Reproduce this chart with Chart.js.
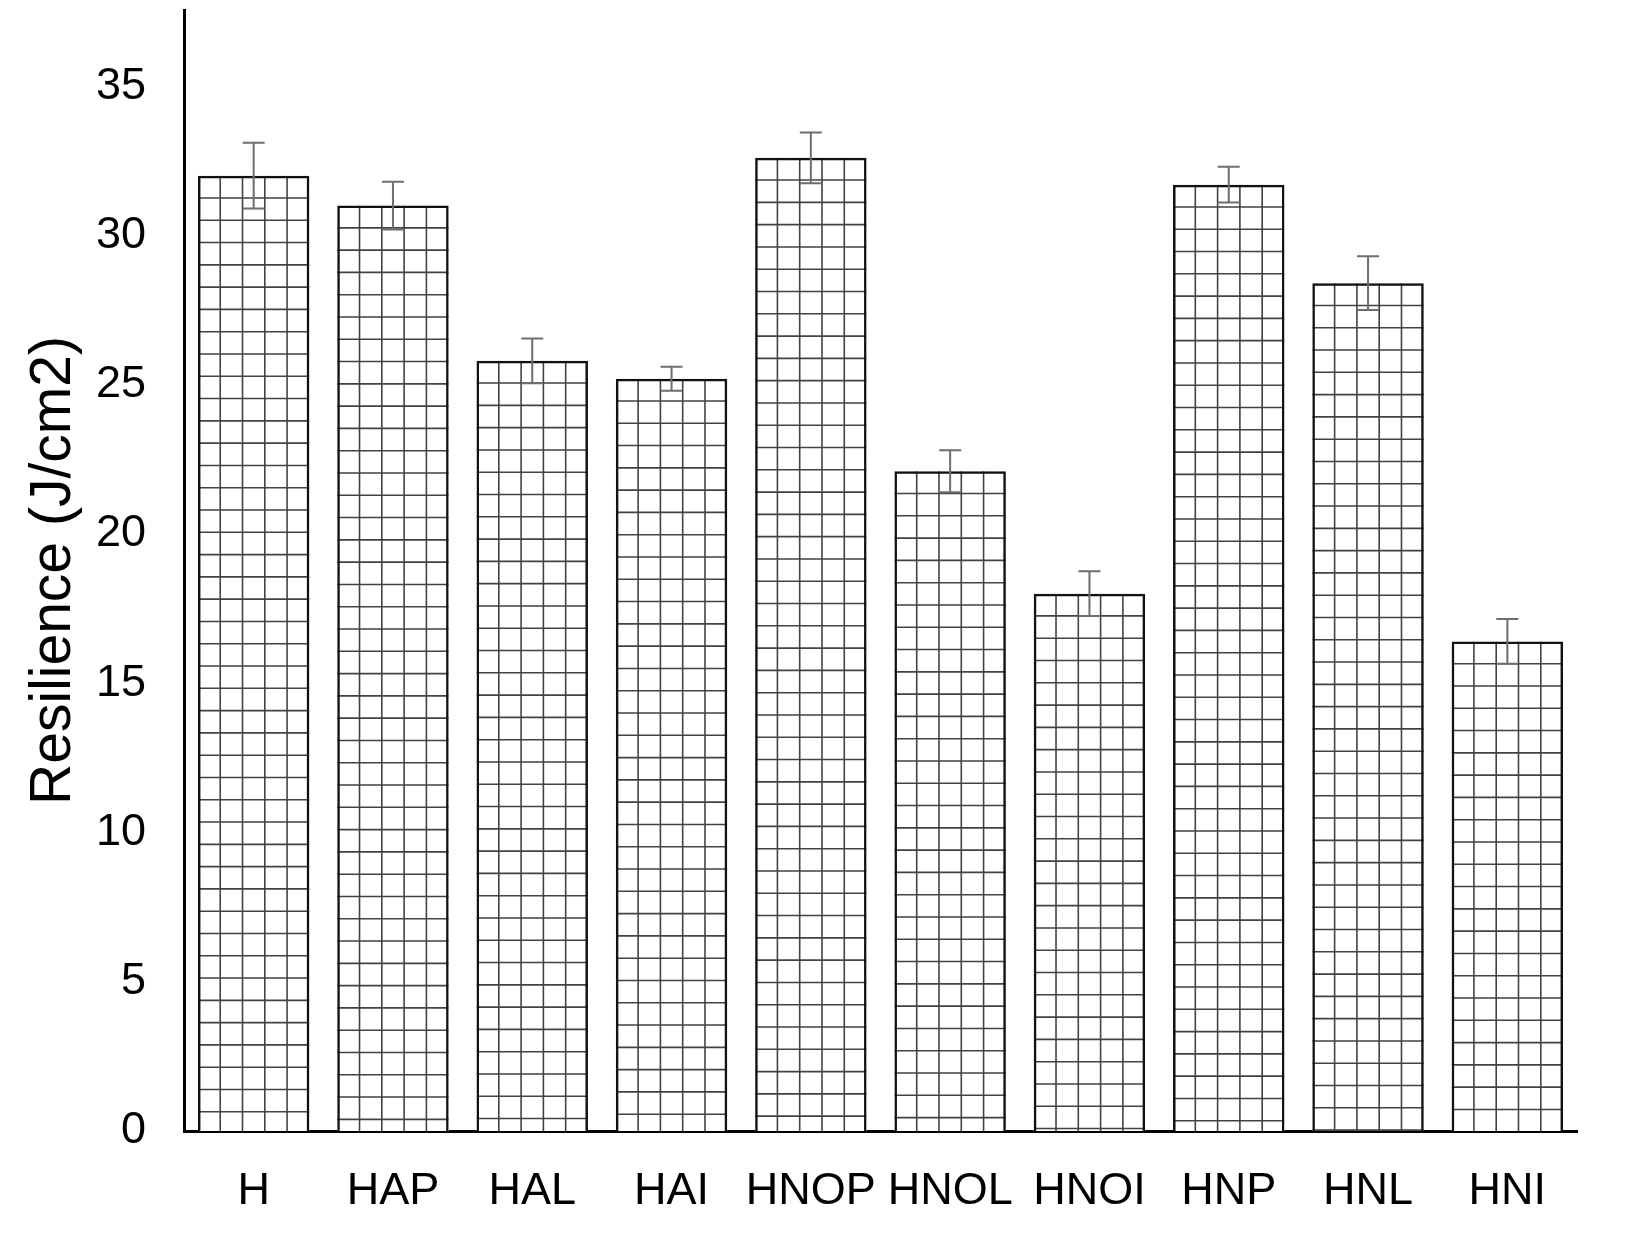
<!DOCTYPE html>
<html>
<head>
<meta charset="utf-8">
<script src="https://cdn.jsdelivr.net/npm/chart.js@4.4.0/dist/chart.umd.min.js"></script>
<style>
  html, body { margin: 0; padding: 0; background: #fff; }
  canvas { display: block; }
</style>
</head>
<body>
<canvas id="resChart" width="1627" height="1243"></canvas>
<script>
// categorias y valores
const categorias = ['H', 'HAP', 'HAL', 'HAI', 'HNOP', 'HNOL', 'HNOI', 'HNP', 'HNL', 'HNI'];
const resiliencia = [32.0, 31.0, 25.8, 25.2, 32.6, 22.1, 18.0, 31.7, 28.4, 16.4];
const errores = [1.1, 0.8, 0.75, 0.4, 0.85, 0.7, 0.75, 0.6, 0.9, 0.75];
const ticksY = [0, 5, 10, 15, 20, 25, 30, 35];

const FONT = "'Liberation Sans', Arial, sans-serif";

// cuadricula dentro de cada barra (empieza desde arriba de la barra)
const rejilla = {
    id: 'rejilla',
    beforeDatasetsDraw(chart) {
        const ctx = chart.ctx;
        const meta = chart.getDatasetMeta(0);
        meta.data.forEach(bar => {
            const left = bar.x - bar.width / 2;
            const right = bar.x + bar.width / 2;
            const top = bar.y;
            const bottom = bar.base;
            const paso = bar.width / 5;
            ctx.save();
            ctx.fillStyle = '#fff';
            ctx.fillRect(left, top, bar.width, bottom - top);
            ctx.beginPath();
            ctx.rect(left, top, bar.width, bottom - top);
            ctx.clip();
            ctx.strokeStyle = 'rgba(45,45,45,0.9)';
            ctx.lineWidth = 1.6;
            ctx.beginPath();
            for (let k = 1; k < 5; k++) {
                const x = left + k * paso;
                ctx.moveTo(x, top);
                ctx.lineTo(x, bottom);
            }
            for (let y = top + paso; y < bottom; y += paso) {
                ctx.moveTo(left, y);
                ctx.lineTo(right, y);
            }
            ctx.stroke();
            ctx.restore();
        });
    }
};

// barras de error
const barrasError = {
    id: 'barrasError',
    afterDatasetsDraw(chart) {
        const ctx = chart.ctx;
        const yScale = chart.scales.y;
        const meta = chart.getDatasetMeta(0);
        ctx.save();
        ctx.strokeStyle = '#6e6e6e';
        ctx.lineWidth = 2;
        meta.data.forEach((bar, i) => {
            const v = resiliencia[i];
            const e = errores[i];
            const yTop = yScale.getPixelForValue(v + e);
            const yBot = yScale.getPixelForValue(v - e);
            const cap = 11;
            ctx.beginPath();
            ctx.moveTo(bar.x, yTop);
            ctx.lineTo(bar.x, yBot);
            ctx.moveTo(bar.x - cap, yTop);
            ctx.lineTo(bar.x + cap, yTop);
            ctx.moveTo(bar.x - cap, yBot);
            ctx.lineTo(bar.x + cap, yBot);
            ctx.stroke();
        });
        ctx.restore();
    }
};

const ctx = document.getElementById('resChart').getContext('2d');
const myChart = new Chart(ctx, {
    type: 'bar',
    data: {
        labels: categorias,
        datasets: [{
            label: 'Resilience',
            data: resiliencia,
            backgroundColor: 'rgba(0,0,0,0)',
            borderColor: '#111',
            borderWidth: 2.5,
            borderSkipped: 'bottom',
            categoryPercentage: 1.0,
            barPercentage: 0.8
        }]
    },
    options: {
        responsive: false,
        animation: false,
        layout: { padding: { top: 10, right: 50, left: 0, bottom: 0 } },
        plugins: {
            legend: { display: false },
            tooltip: { enabled: false }
        },
        scales: {
            x: {
                grid: { display: false, drawTicks: false },
                border: { display: true, color: '#000', width: 3 },
                ticks: {
                    color: '#000',
                    font: { family: FONT, size: 45 },
                    padding: 34,
                    maxRotation: 0,
                    autoSkip: false
                },
                afterFit: s => { s.height = 112; s.paddingLeft = 0; s.paddingRight = 0; }
            },
            y: {
                min: 0,
                max: 37.55,
                grid: { display: false, drawTicks: false },
                border: { display: true, color: '#000', width: 3 },
                afterBuildTicks: s => { s.ticks = ticksY.map(v => ({ value: v })); },
                ticks: {
                    color: '#000',
                    font: { family: FONT, size: 45 },
                    padding: 38
                },
                title: {
                    display: true,
                    text: 'Resilience (J/cm2)',
                    color: '#000',
                    font: { family: FONT, size: 57 },
                    padding: { top: 20, bottom: 0 }
                },
                afterFit: s => { s.width = 184; s.paddingTop = 0; s.paddingBottom = 0; }
            }
        }
    },
    plugins: [rejilla, barrasError]
});
</script>
</body>
</html>
